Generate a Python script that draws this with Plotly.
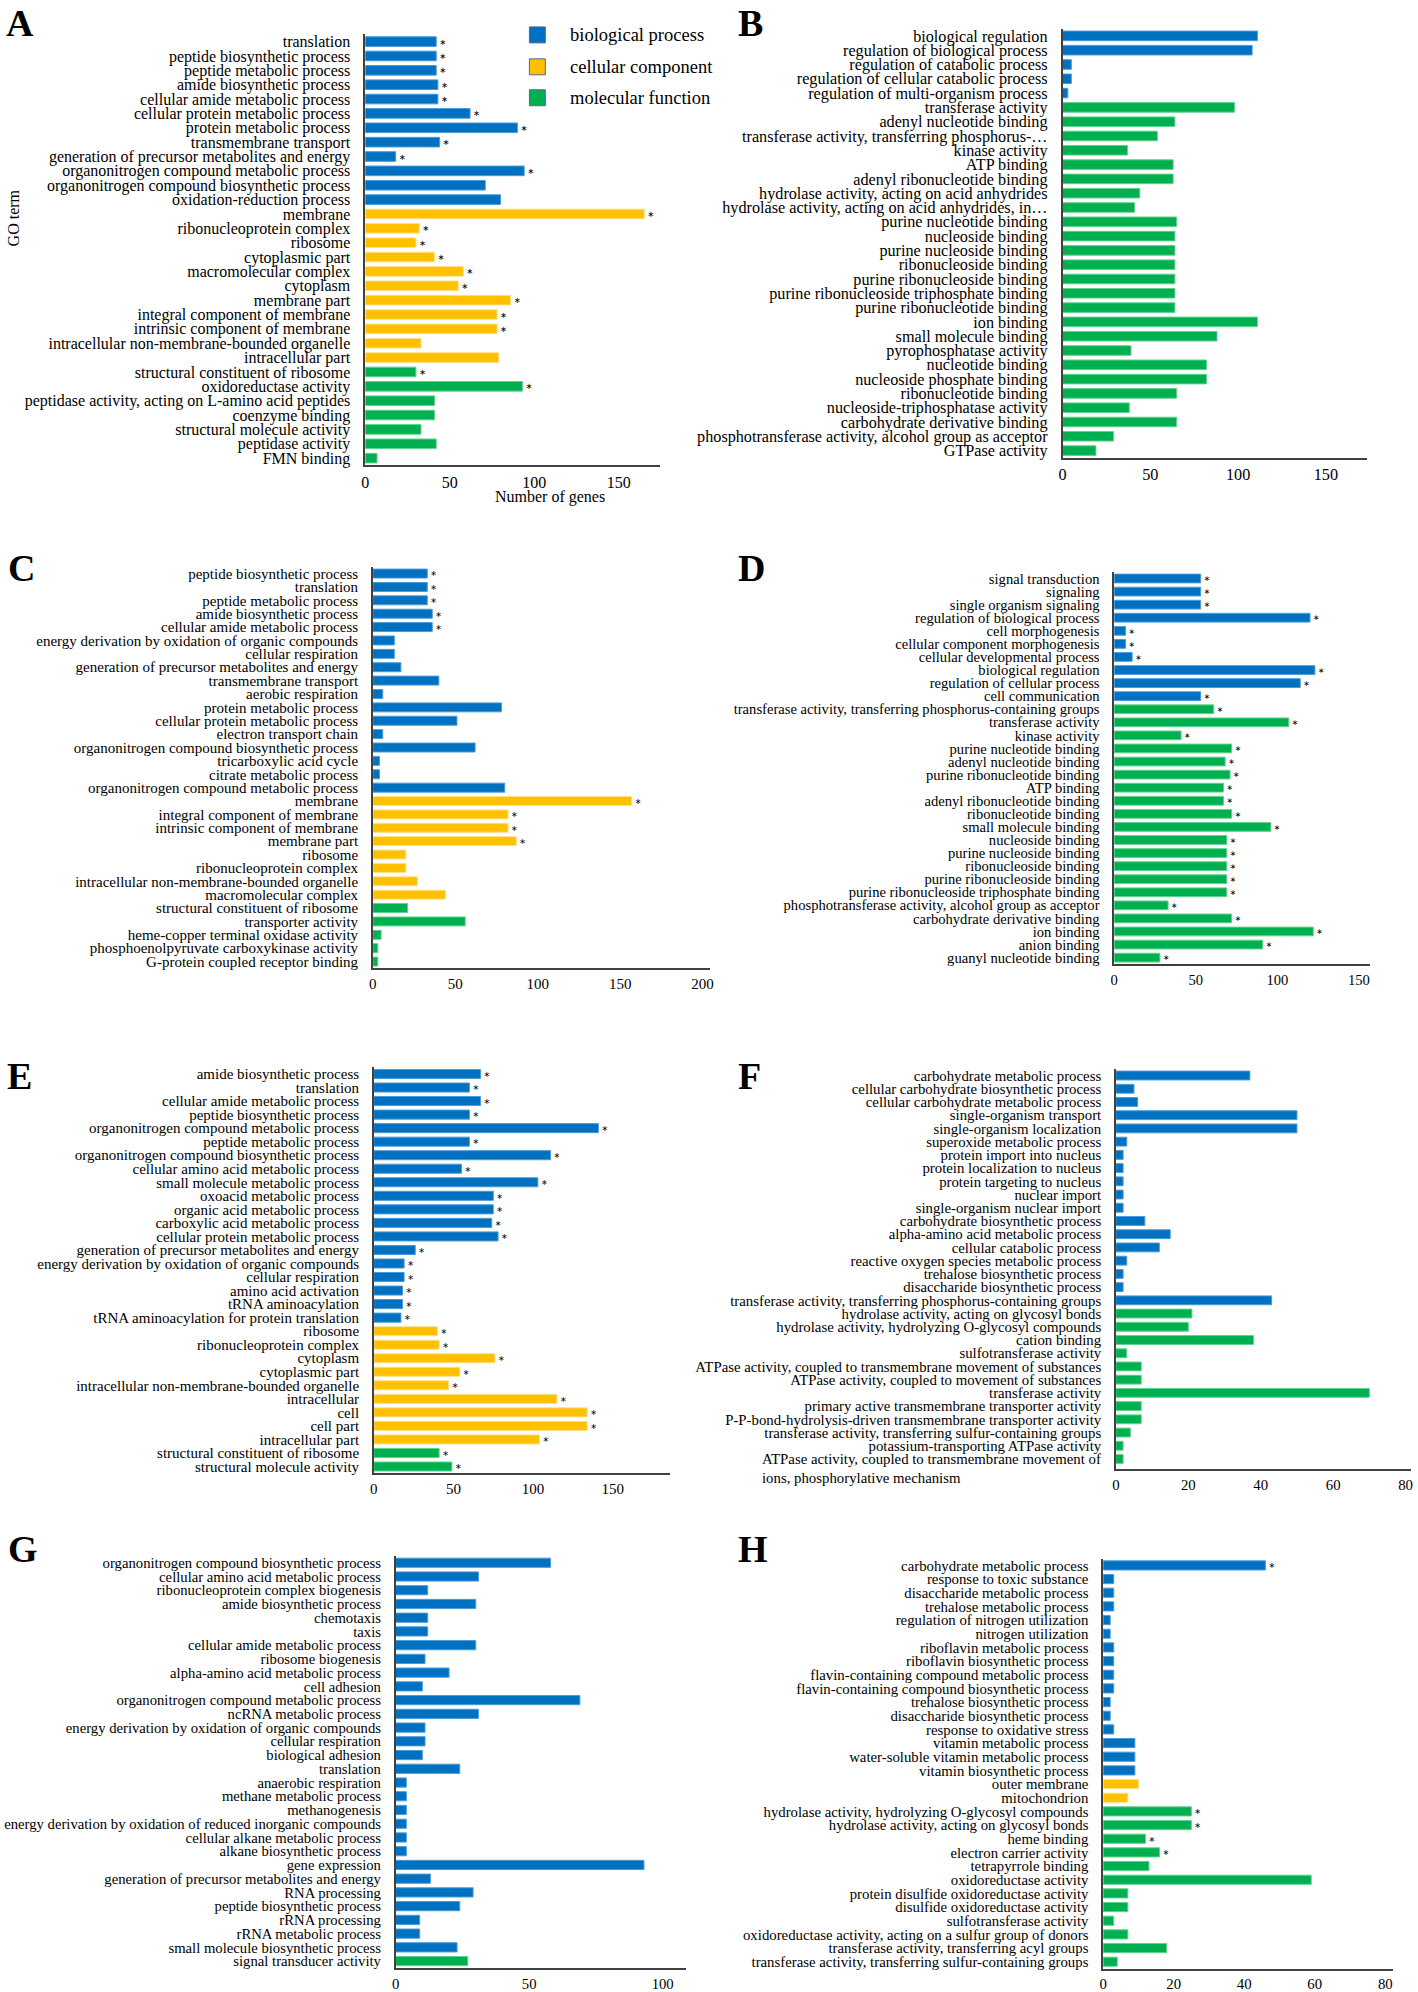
import plotly.graph_objects as go

W, H = 1418, 1992
FONT = "Times New Roman, Liberation Serif, Times, serif"
COL = {"B": "#0070C0", "C": "#FFC000", "M": "#00B050"}
EDGE = {"B": "#4A9BDB", "C": "#FFE08A", "M": "#5FD48A"}
LEGEND_NAMES = ["biological process", "cellular component", "molecular function"]

# ---------------- data (top to bottom) ----------------
A_terms = ["translation", "peptide biosynthetic process", "peptide metabolic process",
           "amide biosynthetic process", "cellular amide metabolic process",
           "cellular protein metabolic process", "protein metabolic process",
           "transmembrane transport", "generation of precursor metabolites and energy",
           "organonitrogen compound metabolic process", "organonitrogen compound biosynthetic process",
           "oxidation-reduction process", "membrane", "ribonucleoprotein complex", "ribosome",
           "cytoplasmic part", "macromolecular complex", "cytoplasm", "membrane part",
           "integral component of membrane", "intrinsic component of membrane",
           "intracellular non-membrane-bounded organelle", "intracellular part",
           "structural constituent of ribosome", "oxidoreductase activity",
           "peptidase activity, acting on L-amino acid peptides", "coenzyme binding",
           "structural molecule activity", "peptidase activity", "FMN binding"]
A_genes = [42, 42, 42, 43, 43, 62, 90, 44, 18, 94, 71, 80, 165, 32, 30, 41, 58, 55, 86, 78,
           78, 33, 79, 30, 93, 41, 41, 33, 42, 7]
A_groups = "BBBBBBBBBBBBCCCCCCCCCCCMMMMMMM"
A_sig = "111111111100111111111001100000"

B_terms = ["biological regulation", "regulation of biological process",
           "regulation of catabolic process", "regulation of cellular catabolic process",
           "regulation of multi-organism process", "transferase activity",
           "adenyl nucleotide binding", "transferase activity, transferring phosphorus-…",
           "kinase activity", "ATP binding", "adenyl ribonucleotide binding",
           "hydrolase activity, acting on acid anhydrides",
           "hydrolase activity, acting on acid anhydrides, in…", "purine nucleotide binding",
           "nucleoside binding", "purine nucleoside binding", "ribonucleoside binding",
           "purine ribonucleoside binding", "purine ribonucleoside triphosphate binding",
           "purine ribonucleotide binding", "ion binding", "small molecule binding",
           "pyrophosphatase activity", "nucleotide binding", "nucleoside phosphate binding",
           "ribonucleotide binding", "nucleoside-triphosphatase activity",
           "carbohydrate derivative binding",
           "phosphotransferase activity, alcohol group as acceptor", "GTPase activity"]
B_genes = [111, 108, 5, 5, 3, 98, 64, 54, 37, 63, 63, 44, 41, 65, 64, 64, 64, 64, 64, 64,
           111, 88, 39, 82, 82, 65, 38, 65, 29, 19]
B_groups = "BBBBBMMMMMMMMMMMMMMMMMMMMMMMMM"
B_sig = "000000000000000000000000000000"

C_terms = ["peptide biosynthetic process", "translation", "peptide metabolic process",
           "amide biosynthetic process", "cellular amide metabolic process",
           "energy derivation by oxidation of organic compounds", "cellular respiration",
           "generation of precursor metabolites and energy", "transmembrane transport",
           "aerobic respiration", "protein metabolic process",
           "cellular protein metabolic process", "electron transport chain",
           "organonitrogen compound biosynthetic process", "tricarboxylic acid cycle",
           "citrate metabolic process", "organonitrogen compound metabolic process",
           "membrane", "integral component of membrane", "intrinsic component of membrane",
           "membrane part", "ribosome", "ribonucleoprotein complex",
           "intracellular non-membrane-bounded organelle", "macromolecular complex",
           "structural constituent of ribosome", "transporter activity",
           "heme-copper terminal oxidase activity",
           "phosphoenolpyruvate carboxykinase activity", "G-protein coupled receptor binding"]
C_genes = [33, 33, 33, 36, 36, 13, 13, 17, 40, 6, 78, 51, 6, 62, 4, 4, 80, 157, 82, 82, 87,
           20, 20, 27, 44, 21, 56, 5, 3, 3]
C_groups = "BBBBBBBBBBBBBBBBBCCCCCCCCMMMMM"
C_sig = "111110000000000001111000000000"

D_terms = ["signal transduction", "signaling", "single organism signaling",
           "regulation of biological process", "cell morphogenesis",
           "cellular component morphogenesis", "cellular developmental process",
           "biological regulation", "regulation of cellular process", "cell communication",
           "transferase activity, transferring phosphorus-containing groups",
           "transferase activity", "kinase activity", "purine nucleotide binding",
           "adenyl nucleotide binding", "purine ribonucleotide binding", "ATP binding",
           "adenyl ribonucleotide binding", "ribonucleotide binding", "small molecule binding",
           "nucleoside binding", "purine nucleoside binding", "ribonucleoside binding",
           "purine ribonucleoside binding", "purine ribonucleoside triphosphate binding",
           "phosphotransferase activity, alcohol group as acceptor",
           "carbohydrate derivative binding", "ion binding", "anion binding",
           "guanyl nucleotide binding"]
D_genes = [53, 53, 53, 120, 7, 7, 11, 123, 114, 53, 61, 107, 41, 72, 68, 71, 67, 67, 72, 96,
           69, 69, 69, 69, 69, 33, 72, 122, 91, 28]
D_groups = "BBBBBBBBBBMMMMMMMMMMMMMMMMMMMM"
D_sig = "111111111111111111111111111111"

E_terms = ["amide biosynthetic process", "translation", "cellular amide metabolic process",
           "peptide biosynthetic process", "organonitrogen compound metabolic process",
           "peptide metabolic process", "organonitrogen compound biosynthetic process",
           "cellular amino acid metabolic process", "small molecule metabolic process",
           "oxoacid metabolic process", "organic acid metabolic process",
           "carboxylic acid metabolic process", "cellular protein metabolic process",
           "generation of precursor metabolites and energy",
           "energy derivation by oxidation of organic compounds", "cellular respiration",
           "amino acid activation", "tRNA aminoacylation",
           "tRNA aminoacylation for protein translation", "ribosome",
           "ribonucleoprotein complex", "cytoplasm", "cytoplasmic part",
           "intracellular non-membrane-bounded organelle", "intracellular", "cell",
           "cell part", "intracellular part", "structural constituent of ribosome",
           "structural molecule activity"]
E_genes = [67, 60, 67, 60, 141, 60, 111, 55, 103, 75, 75, 74, 78, 26, 19, 19, 18, 18, 17,
           40, 41, 76, 54, 47, 115, 134, 134, 104, 41, 49]
E_groups = "BBBBBBBBBBBBBBBBBBBCCCCCCCCCMM"
E_sig = "111111111111111111111111111111"

F_terms = ["carbohydrate metabolic process", "cellular carbohydrate biosynthetic process",
           "cellular carbohydrate metabolic process", "single-organism transport",
           "single-organism localization", "superoxide metabolic process",
           "protein import into nucleus", "protein localization to nucleus",
           "protein targeting to nucleus", "nuclear import", "single-organism nuclear import",
           "carbohydrate biosynthetic process", "alpha-amino acid metabolic process",
           "cellular catabolic process", "reactive oxygen species metabolic process",
           "trehalose biosynthetic process", "disaccharide biosynthetic process",
           "transferase activity, transferring phosphorus-containing groups",
           "hydrolase activity, acting on glycosyl bonds",
           "hydrolase activity, hydrolyzing O-glycosyl compounds", "cation binding",
           "sulfotransferase activity",
           "ATPase activity, coupled to transmembrane movement of substances",
           "ATPase activity, coupled to movement of substances", "transferase activity",
           "primary active transmembrane transporter activity",
           "P-P-bond-hydrolysis-driven transmembrane transporter activity",
           "transferase activity, transferring sulfur-containing groups",
           "potassium-transporting ATPase activity",
           "ATPase activity, coupled to transmembrane movement of<br>ions, phosphorylative mechanism"]
F_genes = [37, 5, 6, 50, 50, 3, 2, 2, 2, 2, 2, 8, 15, 12, 3, 2, 2, 43, 21, 20, 38, 3, 7, 7,
           70, 7, 7, 4, 2, 2]
F_groups = "BBBBBBBBBBBBBBBBBBMMMMMMMMMMMM"
F_sig = "000000000000000000000000000000"

G_terms = ["organonitrogen compound biosynthetic process",
           "cellular amino acid metabolic process", "ribonucleoprotein complex biogenesis",
           "amide biosynthetic process", "chemotaxis", "taxis",
           "cellular amide metabolic process", "ribosome biogenesis",
           "alpha-amino acid metabolic process", "cell adhesion",
           "organonitrogen compound metabolic process", "ncRNA metabolic process",
           "energy derivation by oxidation of organic compounds", "cellular respiration",
           "biological adhesion", "translation", "anaerobic respiration",
           "methane metabolic process", "methanogenesis",
           "energy derivation by oxidation of reduced inorganic compounds",
           "cellular alkane metabolic process", "alkane biosynthetic process",
           "gene expression", "generation of precursor metabolites and energy",
           "RNA processing", "peptide biosynthetic process", "rRNA processing",
           "rRNA metabolic process", "small molecule biosynthetic process",
           "signal transducer activity"]
G_genes = [58, 31, 12, 30, 12, 12, 30, 11, 20, 10, 69, 31, 11, 11, 10, 24, 4, 4, 4, 4, 4, 4,
           93, 13, 29, 24, 9, 9, 23, 27]
G_groups = "BBBBBBBBBBBBBBBBBBBBBBBBBBBBBM"
G_sig = "000000000000000000000000000000"

H_terms = ["carbohydrate metabolic process", "response to toxic substance",
           "disaccharide metabolic process", "trehalose metabolic process",
           "regulation of nitrogen utilization", "nitrogen utilization",
           "riboflavin metabolic process", "riboflavin biosynthetic process",
           "flavin-containing compound metabolic process",
           "flavin-containing compound biosynthetic process", "trehalose biosynthetic process",
           "disaccharide biosynthetic process", "response to oxidative stress",
           "vitamin metabolic process", "water-soluble vitamin metabolic process",
           "vitamin biosynthetic process", "outer membrane", "mitochondrion",
           "hydrolase activity, hydrolyzing O-glycosyl compounds",
           "hydrolase activity, acting on glycosyl bonds", "heme binding",
           "electron carrier activity", "tetrapyrrole binding", "oxidoreductase activity",
           "protein disulfide oxidoreductase activity", "disulfide oxidoreductase activity",
           "sulfotransferase activity",
           "oxidoreductase activity, acting on a sulfur group of donors",
           "transferase activity, transferring acyl groups",
           "transferase activity, transferring sulfur-containing groups"]
H_genes = [46, 3, 3, 3, 2, 2, 3, 3, 3, 3, 2, 2, 3, 9, 9, 9, 10, 7, 25, 25, 12, 16, 13, 59,
           7, 7, 3, 7, 18, 4]
H_groups = "BBBBBBBBBBBBBBBBCCMMMMMMMMMMMM"
H_sig = "100000000000000000111100000000"

# ---------------- layout geometry (pixels) ----------------
panels = [
    dict(L="A", t=A_terms, g=A_genes, c=A_groups, s=A_sig, px=(363, 659.2), py=(33.5, 465.5), xmax=174.3, dt=50, fs=16.0, lab=(16, 22)),
    dict(L="B", t=B_terms, g=B_genes, c=B_groups, s=B_sig, px=(1063.8, 1369.7), py=(27.8, 457.9), xmax=173.4, dt=50, fs=16.2, lab=(750, 22)),
    dict(L="C", t=C_terms, g=C_genes, c=C_groups, s=C_sig, px=(370.7, 710), py=(567.3, 969.7), xmax=204.8, dt=50, fs=15.0, lab=(18, 568)),
    dict(L="D", t=D_terms, g=D_genes, c=D_groups, s=D_sig, px=(1115.7, 1373), py=(572.4, 965.6), xmax=156.9, dt=50, fs=14.6, lab=(751, 568)),
    dict(L="E", t=E_terms, g=E_genes, c=E_groups, s=E_sig, px=(371.7, 669), py=(1068.9, 1476), xmax=185.8, dt=50, fs=15.0, lab=(16, 1078)),
    dict(L="F", t=F_terms, g=F_genes, c=F_groups, s=F_sig, px=(1117.4, 1414), py=(1070.6, 1471.7), xmax=81.5, dt=20, fs=14.8, lab=(749, 1078)),
    dict(L="G", t=G_terms, g=G_genes, c=G_groups, s=G_sig, px=(393.6, 685.8), py=(1558.8, 1971.9), xmax=108.9, dt=50, fs=14.7, lab=(19, 1552)),
    dict(L="H", t=H_terms, g=H_genes, c=H_groups, s=H_sig, px=(1104.6, 1396.3), py=(1561.5, 1972.5), xmax=82.3, dt=20, fs=14.8, lab=(753, 1552)),
]

LABEL_GAP = 10
fig = go.Figure()
annotations = []
shapes = []

for i, p in enumerate(panels, start=1):
    sfx = "" if i == 1 else str(i)
    xa, ya = "x" + sfx, "y" + sfx
    fig.add_trace(go.Bar(
        y=p["t"], x=p["g"], orientation="h", xaxis=xa, yaxis=ya,
        marker=dict(color=[COL[k] for k in p["c"]],
                    line=dict(color=[EDGE[k] for k in p["c"]], width=1)),
        text=["∗" if k == "1" else "" for k in p["s"]], textposition="outside",
        textfont=dict(family="DejaVu Sans", size=14, color="black"),
        cliponaxis=False, showlegend=False, hoverinfo="skip"))
    ticktext = [("" if "<br>" in t else t) for t in p["t"]]
    fig.layout["xaxis" + sfx] = dict(
        domain=[p["px"][0] / W, p["px"][1] / W], anchor=ya, range=[0, p["xmax"]],
        tick0=0, dtick=p["dt"], showgrid=False, zeroline=False, showline=True,
        linecolor="#404040", linewidth=2, ticks="", ticklabelstandoff=1,
        tickfont=dict(family=FONT, size=p["fs"], color="black"), fixedrange=True)
    fig.layout["yaxis" + sfx] = dict(
        domain=[1 - p["py"][1] / H, 1 - p["py"][0] / H], anchor=xa, type="category",
        autorange="reversed", showgrid=False, zeroline=False, showline=True,
        linecolor="#404040", linewidth=1.5, ticks="", ticklabelstandoff=LABEL_GAP,
        tickmode="array", tickvals=p["t"], ticktext=ticktext,
        tickfont=dict(family=FONT, size=p["fs"], color="black"), fixedrange=True)
    for t in p["t"]:
        if "<br>" in t:
            annotations.append(dict(
                text=t, xref="paper", yref=ya, x=(p["px"][0] - LABEL_GAP - 3) / W, y=t,
                xanchor="right", yanchor="top", align="left", yshift=10, showarrow=False,
                font=dict(family=FONT, size=p["fs"], color="black")))
    annotations.append(dict(
        text="<b>%s</b>" % p["L"], xref="paper", yref="paper",
        x=p["lab"][0] / W, y=1 - p["lab"][1] / H, xanchor="center", yanchor="middle",
        showarrow=False, font=dict(family=FONT, size=38, color="black")))

# axis titles of panel A
annotations.append(dict(text="Number of genes", xref="paper", yref="paper",
                        x=549 / W, y=1 - 497 / H, xanchor="center", yanchor="middle",
                        showarrow=False, font=dict(family=FONT, size=16, color="black")))
annotations.append(dict(text="GO term", xref="paper", yref="paper", textangle=-90,
                        x=10 / W, y=1 - 217 / H, xanchor="center", yanchor="middle",
                        showarrow=False, font=dict(family=FONT, size=16, color="black")))

# legend (panel A)
for k, (key, yc) in enumerate(zip("BCM", [34, 66, 97])):
    shapes.append(dict(type="rect", xref="paper", yref="paper",
                       x0=528 / W, x1=544 / W, y0=1 - (yc + 8) / H, y1=1 - (yc - 8) / H,
                       fillcolor=COL[key], line=dict(color="#4F6A8F", width=1)))
    annotations.append(dict(text=LEGEND_NAMES[k], xref="paper", yref="paper",
                            x=567 / W, y=1 - yc / H, xanchor="left", yanchor="middle",
                            showarrow=False, font=dict(family=FONT, size=18.5, color="black")))

fig.update_layout(width=W, height=H, margin=dict(l=0, r=0, t=0, b=0),
                  paper_bgcolor="white", plot_bgcolor="white", bargap=0.33,
                  annotations=annotations, shapes=shapes,
                  font=dict(family=FONT, size=15, color="black"))
fig.write_html("out.html", config={"displayModeBar": False},
               post_script="document.body.style.margin='0';document.body.style.overflow='hidden';")
